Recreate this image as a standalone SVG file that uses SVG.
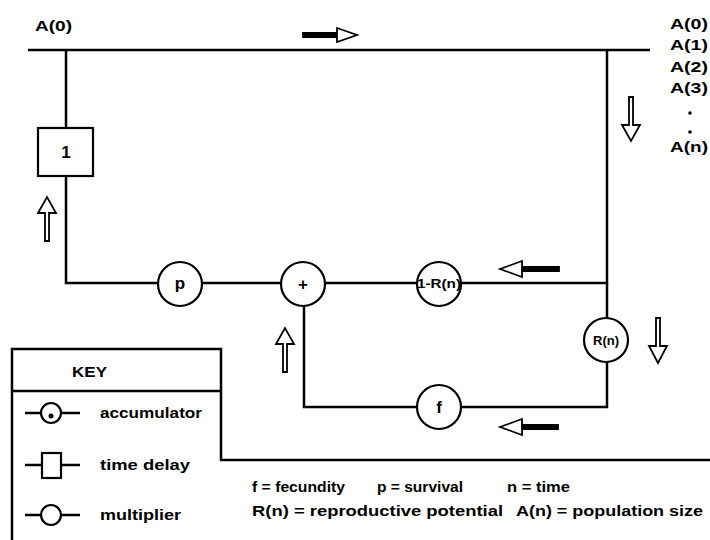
<svg xmlns="http://www.w3.org/2000/svg" width="710" height="540" viewBox="0 0 710 540">
<style>
.ln{stroke:#000;stroke-width:2.5;fill:none}
.nd{stroke:#000;stroke-width:2.2;fill:#fff}
.ar{stroke:#000;stroke-width:1.8;fill:#fff;stroke-linejoin:miter}
.sh{stroke:#000;stroke-width:1.8;fill:#000}
text{font-family:"Liberation Sans",Arial,sans-serif;font-weight:bold;fill:#000}
.t{font-size:15px}
.n{font-size:17px}
.s{font-size:13px}
.m{text-anchor:middle}
</style>
<rect width="710" height="540" fill="#fff"/>
<g id="connectors">
<path class="ln" d="M28,50 H650"/>
<path class="ln" d="M66,50 V283 H180"/>
<path class="ln" d="M180,283 H607 V50"/>
<path class="ln" d="M607,283 V407 H304 V284"/>
</g>
<g id="arrows">
<polygon class="sh" points="303,33 337,33 337,37 303,37"/>
<polygon class="ar" points="337,28 357,35 337,42"/>
<polygon class="ar" points="629,97 633,97 633,125 640,125 631,141 622,125 629,125"/>
<polygon class="ar" points="45,241 49,241 49,213 56,213 47,197 38,213 45,213"/>
<polygon class="sh" points="559,267 559,271 522,271 522,267"/>
<polygon class="ar" points="522,261 500,269 522,277"/>
<polygon class="ar" points="656,318 660,318 660,346 667,346 658,363 649,346 656,346"/>
<polygon class="ar" points="283,372 287,372 287,344 294,344 285,328 276,344 283,344"/>
<polygon class="sh" points="558,425 558,429 522,429 522,425"/>
<polygon class="ar" points="522,419 500,427 522,435"/>
</g>
<g id="delay"><rect class="nd" x="38" y="128" width="55" height="48"/><text class="n m" x="66" y="158">1</text></g>
<g id="p"><circle class="nd" cx="180" cy="284" r="22"/><text class="n m" x="180" y="289">p</text></g>
<g id="plus"><circle class="nd" cx="303" cy="284" r="22"/><text class="n m" x="303" y="290">+</text></g>
<g id="oneminusR"><circle class="nd" cx="439" cy="284" r="22"/><text class="m" font-size="12" x="439" y="288" textLength="44" lengthAdjust="spacingAndGlyphs">1-R(n)</text></g>
<g id="Rn"><circle class="nd" cx="606" cy="340" r="22"/><text class="s m" x="606" y="345">R(n)</text></g>
<g id="f"><circle class="nd" cx="439" cy="407" r="22"/><text class="n m" x="439" y="413">f</text></g>
<g id="labels">
<text class="t" x="35" y="31" textLength="37" lengthAdjust="spacingAndGlyphs">A(0)</text>
<text class="t" x="670" y="29" textLength="38" lengthAdjust="spacingAndGlyphs">A(0)</text>
<text class="t" x="670" y="50" textLength="38" lengthAdjust="spacingAndGlyphs">A(1)</text>
<text class="t" x="670" y="72" textLength="38" lengthAdjust="spacingAndGlyphs">A(2)</text>
<text class="t" x="670" y="93" textLength="38" lengthAdjust="spacingAndGlyphs">A(3)</text>
<circle cx="690" cy="113" r="1.8" fill="#000"/>
<circle cx="690" cy="132" r="1.8" fill="#000"/>
<text class="t" x="670" y="152" textLength="38" lengthAdjust="spacingAndGlyphs">A(n)</text>
</g>
<g id="key">
<path class="ln" d="M12,540 V349 H221 V460 H710"/>
<path class="ln" d="M12,391 H221"/>
<text class="t" x="72" y="377" textLength="35" lengthAdjust="spacingAndGlyphs">KEY</text>
<path class="ln" d="M25,413 H80"/>
<circle class="nd" cx="51" cy="413" r="10"/>
<circle cx="51" cy="416" r="2.5" fill="#000"/>
<text class="t" x="100" y="418" textLength="102" lengthAdjust="spacingAndGlyphs">accumulator</text>
<path class="ln" d="M25,465 H80"/>
<rect class="nd" x="42" y="453" width="19" height="25"/>
<text class="t" x="100" y="470" textLength="90" lengthAdjust="spacingAndGlyphs">time delay</text>
<path class="ln" d="M25,515 H80"/>
<circle class="nd" cx="51" cy="515" r="10"/>
<text class="t" x="100" y="520" textLength="81" lengthAdjust="spacingAndGlyphs">multiplier</text>
</g>
<g id="legend">
<text class="t" x="252" y="492" textLength="93" lengthAdjust="spacingAndGlyphs">f = fecundity</text>
<text class="t" x="377" y="492" textLength="86" lengthAdjust="spacingAndGlyphs">p = survival</text>
<text class="t" x="507" y="492" textLength="63" lengthAdjust="spacingAndGlyphs">n = time</text>
<text class="t" x="252" y="516" textLength="251" lengthAdjust="spacingAndGlyphs">R(n) = reproductive potential</text>
<text class="t" x="516" y="516" textLength="187" lengthAdjust="spacingAndGlyphs">A(n) = population size</text>
</g>
</svg>
